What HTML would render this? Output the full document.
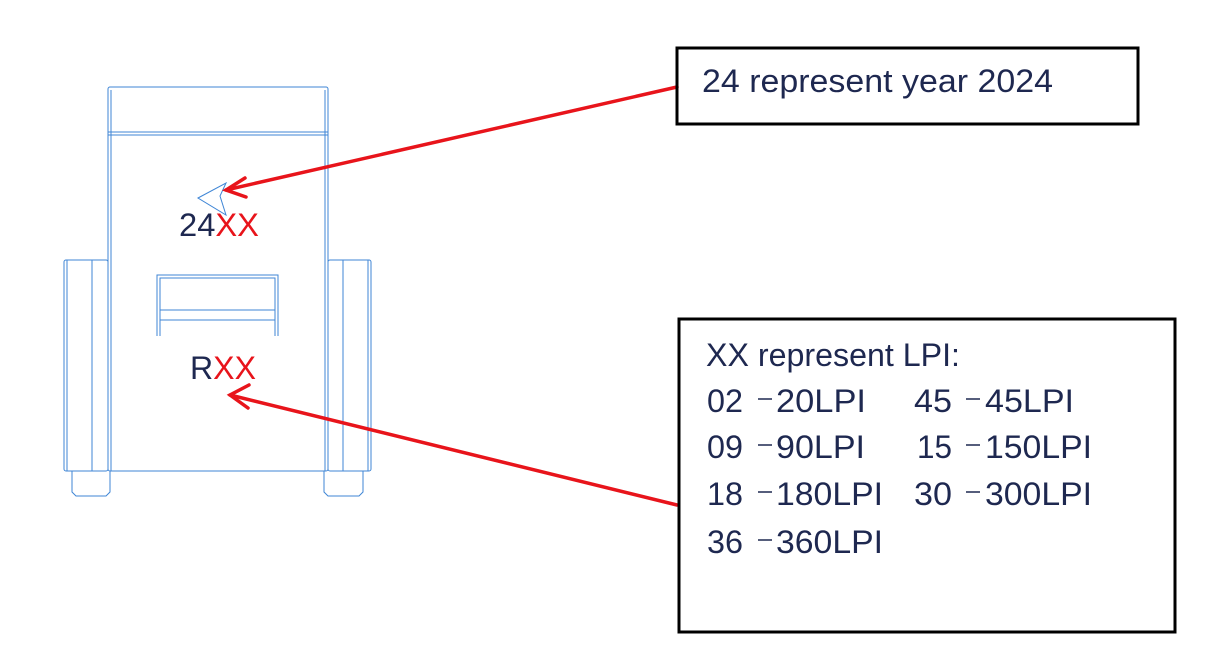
<!DOCTYPE html>
<html><head><style>body{margin:0;background:#fff}svg{display:block}text{font-family:"Liberation Sans",Arial,sans-serif;fill:#1e2850}</style></head><body>
<svg width="1215" height="651" viewBox="0 0 1215 651">
<g fill="none" stroke="#3f86d6" stroke-width="1">
<rect x="108" y="87" width="220" height="384" rx="2"/>
<line x1="111" y1="90" x2="111" y2="471"/><line x1="325" y1="90" x2="325" y2="471"/>
<line x1="108" y1="132" x2="328" y2="132"/><line x1="108" y1="135" x2="328" y2="135"/>
<rect x="64" y="260" width="44" height="211" rx="2"/><line x1="67" y1="260" x2="67" y2="471"/><line x1="92" y1="260" x2="92" y2="471"/>
<rect x="328" y="260" width="43" height="211" rx="2"/><line x1="368" y1="260" x2="368" y2="471"/><line x1="343" y1="260" x2="343" y2="471"/>
<path d="M72 471 V492 L76 496 H106 L110 492 V471"/>
<path d="M324 471 V492 L328 496 H359 L363 492 V471"/>
<path d="M157 336 V275 H278 V336"/><path d="M160 336 V278 H275 V336"/>
<line x1="160" y1="310" x2="275" y2="310"/><line x1="160" y1="320" x2="275" y2="320"/>
<path d="M198 198 L226 183 L220 196 L226 215 Z"/>
</g>
<text x="179" y="236" font-size="32" textLength="80" lengthAdjust="spacingAndGlyphs">24<tspan style="fill:#e8141b">XX</tspan></text>
<text x="190" y="379" font-size="32" textLength="66" lengthAdjust="spacingAndGlyphs">R<tspan style="fill:#e8141b">XX</tspan></text>
<g stroke="#e8141b" stroke-width="3.5" fill="none" stroke-linecap="round">
<line x1="677" y1="87" x2="226" y2="190"/><path d="M245 178 L226 190 L246 197"/>
<line x1="677" y1="505" x2="230" y2="395"/><path d="M249 385 L230 395 L248 408"/>
</g>
<rect x="677" y="48" width="461" height="76" fill="none" stroke="#000" stroke-width="3"/>
<text x="702" y="92" font-size="32" textLength="351" lengthAdjust="spacingAndGlyphs">24 represent year 2024</text>
<rect x="679" y="319" width="496" height="313" fill="none" stroke="#000" stroke-width="3"/>
<g font-size="32" lengthAdjust="spacingAndGlyphs">
<text x="706" y="366" textLength="254" lengthAdjust="spacingAndGlyphs">XX represent LPI:</text>
<text x="707" y="412" textLength="36" lengthAdjust="spacingAndGlyphs">02</text><text x="776" y="412" textLength="90" lengthAdjust="spacingAndGlyphs">20LPI</text>
<text x="914" y="412" textLength="38" lengthAdjust="spacingAndGlyphs">45</text><text x="985" y="412" textLength="89" lengthAdjust="spacingAndGlyphs">45LPI</text>
<text x="707" y="458" textLength="36" lengthAdjust="spacingAndGlyphs">09</text><text x="776" y="458" textLength="89" lengthAdjust="spacingAndGlyphs">90LPI</text>
<text x="917" y="458" textLength="35" lengthAdjust="spacingAndGlyphs">15</text><text x="985" y="458" textLength="107" lengthAdjust="spacingAndGlyphs">150LPI</text>
<text x="707" y="505" textLength="36" lengthAdjust="spacingAndGlyphs">18</text><text x="776" y="505" textLength="107" lengthAdjust="spacingAndGlyphs">180LPI</text>
<text x="914" y="505" textLength="38" lengthAdjust="spacingAndGlyphs">30</text><text x="985" y="505" textLength="107" lengthAdjust="spacingAndGlyphs">300LPI</text>
<text x="707" y="553" textLength="36" lengthAdjust="spacingAndGlyphs">36</text><text x="776" y="553" textLength="107" lengthAdjust="spacingAndGlyphs">360LPI</text>
</g>
<g stroke="#1e2850" stroke-width="1.5">
<line x1="758" y1="399" x2="772" y2="399"/><line x1="966" y1="399" x2="980" y2="399"/>
<line x1="758" y1="445" x2="772" y2="445"/><line x1="966" y1="445" x2="980" y2="445"/>
<line x1="758" y1="492" x2="772" y2="492"/><line x1="966" y1="492" x2="980" y2="492"/>
<line x1="758" y1="540" x2="772" y2="540"/>
</g>
</svg>
</body></html>
